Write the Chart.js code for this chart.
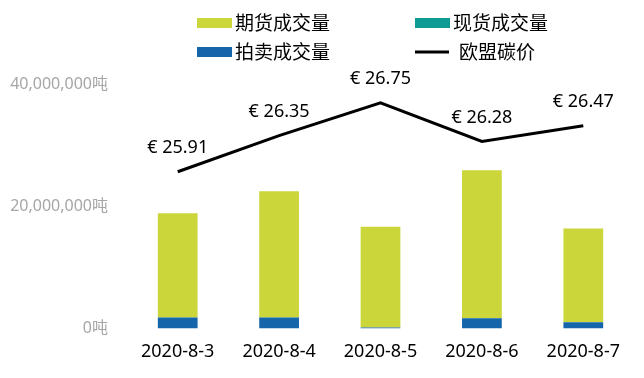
<!DOCTYPE html>
<html>
<head>
<meta charset="utf-8">
<script src="https://cdn.jsdelivr.net/npm/chart.js@4/dist/chart.umd.min.js"></script>
<style>
  html, body { margin: 0; padding: 0; background: #fff; }
  #wrap { width: 644px; height: 378px; position: relative; }
</style>
</head>
<body>
<div id="wrap"><canvas id="c"></canvas></div>
<script>
// data
var dates = ['2020-8-3', '2020-8-4', '2020-8-5', '2020-8-6', '2020-8-7'];
var futuresVol = [17050000, 20650000, 16500000, 24250000, 15350000];
var spotVol = [0, 0, 0, 0, 0];
var auctionVol = [1800000, 1800000, 150000, 1650000, 1000000];
var euaPrice = [25.91, 26.35, 26.75, 26.28, 26.47];
var volTicks = [0, 20000000, 40000000];

var FONT = "'Noto Sans', 'Noto Sans CJK SC', sans-serif";
var CJK = "'Noto Sans CJK SC', 'Noto Sans', sans-serif";

// legend drawn by hand so the two columns line up
var legendPlugin = {
  id: 'twoColLegend',
  afterDraw: function(chart) {
    var ctx = chart.ctx;
    var ds = chart.data.datasets;
    var items = [
      {i: 0, x: 197, y: 23},
      {i: 1, x: 415, y: 23},
      {i: 2, x: 197, y: 52},
      {i: 3, x: 415, y: 52}
    ];
    ctx.save();
    ctx.font = '19px ' + CJK;
    ctx.textBaseline = 'middle';
    ctx.fillStyle = '#000';
    items.forEach(function(it) {
      var d = ds[it.i];
      if (d.type === 'line') {
        ctx.strokeStyle = d.borderColor;
        ctx.lineWidth = 3;
        ctx.beginPath();
        ctx.moveTo(it.x, it.y);
        ctx.lineTo(it.x + 34, it.y);
        ctx.stroke();
        ctx.fillStyle = '#000';
        ctx.fillText(d.label, it.x + 44, it.y);
      } else {
        ctx.fillStyle = d.backgroundColor;
        ctx.fillRect(it.x, it.y - 5, 35, 10);
        ctx.fillStyle = '#000';
        ctx.fillText(d.label, it.x + 38, it.y);
      }
    });
    ctx.restore();
  }
};

// euro labels over the price line
var priceLabels = {
  id: 'priceLabels',
  afterDatasetsDraw: function(chart) {
    var ctx = chart.ctx;
    var meta = chart.getDatasetMeta(3);
    ctx.save();
    ctx.font = '18px ' + FONT;
    ctx.fillStyle = '#000';
    ctx.textAlign = 'center';
    ctx.textBaseline = 'middle';
    meta.data.forEach(function(pt, i) {
      ctx.fillText('€ ' + euaPrice[i].toFixed(2), pt.x, pt.y - 24);
    });
    ctx.restore();
  }
};

new Chart('c', {
  data: {
    labels: dates,
    datasets: [
      { label: '期货成交量', type: 'bar', data: futuresVol, backgroundColor: '#cad63a', stack: 'v', order: 3 },
      { label: '现货成交量', type: 'bar', data: spotVol, backgroundColor: '#0f9a93', stack: 'v', order: 2 },
      { label: '拍卖成交量', type: 'bar', data: auctionVol, backgroundColor: '#1565ab', stack: 'v', order: 1 },
      { label: '欧盟碳价', type: 'line', data: euaPrice, yAxisID: 'y1', borderColor: '#000', backgroundColor: '#000',
        borderWidth: 3, pointRadius: 0, tension: 0, order: 0 }
    ]
  },
  options: {
    responsive: true,
    maintainAspectRatio: false,
    animation: false,
    layout: { padding: { top: 84, right: 10, bottom: 2, left: 0 } },
    datasets: { bar: { categoryPercentage: 0.8, barPercentage: 0.49 } },
    plugins: { legend: { display: false }, tooltip: { enabled: false } },
    scales: {
      x: {
        stacked: true,
        grid: { display: false, drawTicks: false },
        border: { display: false },
        ticks: { color: '#000', padding: 13, font: { family: FONT, size: 18 } }
      },
      y: {
        stacked: true,
        min: 0,
        max: 40000000,
        afterFit: function(s) { s.width = 127; },
        afterBuildTicks: function(s) { s.ticks = volTicks.map(function(v) { return {value: v}; }); },
        grid: { display: false, drawTicks: false },
        border: { display: false },
        ticks: {
          color: '#a6a6a6',
          padding: 19,
          font: { family: FONT, size: 16 },
          callback: function(v) { return v.toLocaleString('en-US') + '吨'; }
        }
      },
      y1: { display: false, min: 24, max: 26.98 }
    }
  },
  plugins: [legendPlugin, priceLabels]
});
</script>
</body>
</html>
